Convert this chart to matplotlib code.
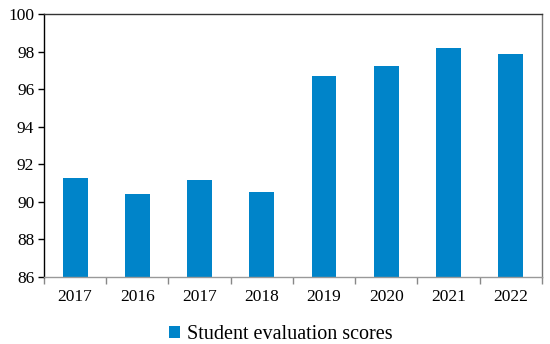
import matplotlib.pyplot as plt
import matplotlib.ticker as ticker
import numpy as np

years = ["2017", "2016", "2017", "2018", "2019", "2020", "2021", "2022"]
scores = [91.25, 90.4, 91.15, 90.55, 96.72, 97.25, 98.18, 97.86]
y_ticks = [86, 88, 90, 92, 94, 96, 98, 100]

plt.rcParams['font.family'] = ['Liberation Serif', 'DejaVu Serif']

fig = plt.figure(figsize=(5.5, 3.44), dpi=100)
ax = fig.add_axes([0.08, 0.195, 0.905, 0.764])

x = np.arange(len(years))
ax.bar(x, scores, width=0.4, color='#0084C9', label='Student evaluation scores', zorder=2)

ax.set_xlim(-0.5, len(years) - 0.5)
ax.set_ylim(86, 100)
ax.set_yticks(y_ticks)
ax.tick_params(axis='y', direction='out', length=4, width=1, labelsize=12.5, pad=3)

# category labels in the middle, ticks at boundaries
ax.xaxis.set_major_locator(ticker.FixedLocator(np.arange(len(years) + 1) - 0.5))
ax.xaxis.set_major_formatter(ticker.NullFormatter())
ax.xaxis.set_minor_locator(ticker.FixedLocator(x))
ax.xaxis.set_minor_formatter(ticker.FixedFormatter(years))
ax.tick_params(axis='x', which='major', direction='out', length=5, width=1, color='#888888')
ax.tick_params(axis='x', which='minor', length=0, labelsize=12.5, pad=9)

ax.spines['left'].set_color('black')
ax.spines['bottom'].set_color('#999999')
ax.spines['top'].set_color('#333333')
ax.spines['right'].set_color('#777777')
for s in ax.spines.values():
    s.set_linewidth(1)

fig.legend(loc='center', bbox_to_anchor=(0.51, 0.027), frameon=False, fontsize=14.5,
           handlelength=0.55, handleheight=0.55, handletextpad=0.35)

fig.savefig('out.png', dpi=100)
